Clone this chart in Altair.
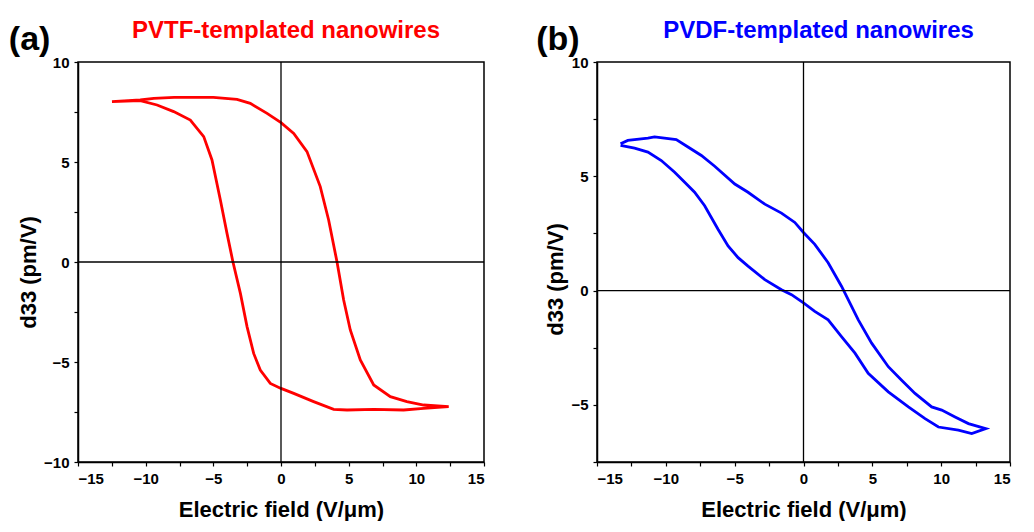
import altair as alt
import pandas as pd

# Panel (a): PVTF-templated nanowires (closed loop, traced in order)
a_x = [-12.49, -10.4, -9.4, -7.9, -5.0, -3.25, -2.27, -1.03, 0.0, 0.94, 1.92, 2.9, 3.52, 4.14,
       4.63, 5.12, 5.86, 6.85, 8.08, 9.3, 10.54, 12.39,
       10.54, 9.06, 6.85, 4.88, 3.89, 2.41, 0.94, 0.0, -0.79, -1.53, -2.02, -2.51, -3.0, -3.55,
       -3.99, -4.48, -5.1, -5.71, -6.7, -7.93, -9.16, -10.4, -12.49]
a_y = [8.02, 8.1, 8.18, 8.23, 8.23, 8.13, 7.93, 7.43, 6.97, 6.43, 5.52, 3.77, 2.1, 0.0,
       -1.9, -3.4, -4.9, -6.15, -6.73, -6.98, -7.15, -7.23,
       -7.32, -7.4, -7.37, -7.4, -7.37, -6.98, -6.57, -6.32, -6.07, -5.4, -4.57, -3.23, -1.57, 0.0,
       1.43, 3.1, 5.1, 6.27, 7.1, 7.52, 7.85, 8.07, 8.02]

# Panel (b): PVDF-templated nanowires
b_x = [-13.29, -12.76, -11.3, -10.82, -9.24, -8.39, -7.42, -6.45, -4.99, -4.03, -2.81, -1.6,
       -0.63, 0.0, 0.82, 1.79, 2.76, 3.13, 3.98, 4.95, 6.16, 7.13, 8.1, 9.31, 10.04, 11.01,
       11.98, 13.24,
       12.22, 11.25, 9.8, 8.83, 7.62, 6.16, 4.7, 3.74, 2.76, 1.79, 0.82, 0.0, -0.87, -1.6,
       -2.81, -4.03, -4.75, -5.48, -6.21, -7.18, -7.91, -8.63, -9.36, -10.33, -11.3, -12.27,
       -13.29]
b_y = [6.42, 6.57, 6.67, 6.72, 6.61, 6.28, 5.91, 5.44, 4.66, 4.30, 3.78, 3.39,
       2.98, 2.54, 2.02, 1.22, 0.19, -0.25, -1.28, -2.3, -3.33, -3.92, -4.5, -5.09, -5.23, -5.53,
       -5.82, -6.04,
       -6.26, -6.11, -5.97, -5.6, -5.09, -4.43, -3.62, -2.74, -2.01, -1.28, -0.91, -0.54, -0.18, 0.04,
       0.48, 1.07, 1.44, 1.95, 2.68, 3.71, 4.30, 4.74, 5.18, 5.69, 6.06, 6.23,
       6.35]

x_ticks = [-15, -12.5, -10, -7.5, -5, -2.5, 0, 2.5, 5, 7.5, 10, 12.5, 15]
x_domain = [-15, 15]
a_y_ticks = [-10, -7.5, -5, -2.5, 0, 2.5, 5, 7.5, 10]
a_y_domain = [-10, 10]
b_y_ticks = [-7.5, -5, -2.5, 0, 2.5, 5, 7.5, 10]
b_y_domain = [-7.5, 10]

FONT = "Liberation Sans"
major_test = "abs(datum.value % 5) < 0.001"


def make_axis(title, values, pad, title_y=None):
    kw = {}
    if title_y is not None:
        kw["titleY"] = title_y
    return alt.Axis(
        title=title,
        values=values,
        labelExpr=f"{major_test} ? datum.label : ''",
        tickSize=4,
        grid=False,
        labelFont=FONT,
        labelColor="black",
        labelFontSize=15,
        labelFontWeight="bold",
        titleFont=FONT,
        titleColor="black",
        titleFontSize=22,
        titleFontWeight="bold",
        titlePadding=pad,
        labelPadding=5,
        domainColor="black",
        tickColor="black",
        domainWidth=1.5,
        tickWidth=1.2,
        **kw,
    )


def panel(xs, ys, color, ydom, yticks, title, letter, title_dx, width, ytitle_y):
    # loop curve plus the two zero reference lines, all in one line mark (no layering)
    rows = [{"x": x, "y": y, "i": k, "s": "loop"} for k, (x, y) in enumerate(zip(xs, ys))]
    rows += [{"x": x_domain[0], "y": 0, "i": 0, "s": "h0"}, {"x": x_domain[1], "y": 0, "i": 1, "s": "h0"}]
    rows += [{"x": 0, "y": ydom[0], "i": 0, "s": "v0"}, {"x": 0, "y": ydom[1], "i": 1, "s": "v0"}]
    df = pd.DataFrame(rows)
    segs = ["h0", "v0", "loop"]
    inner = alt.Chart(df).mark_line().encode(
        x=alt.X("x:Q", scale=alt.Scale(domain=x_domain, nice=False, zero=False),
                axis=make_axis("Electric field (V/μm)", x_ticks, 13)),
        y=alt.Y("y:Q", scale=alt.Scale(domain=ydom, nice=False, zero=False),
                axis=make_axis("d33 (pm/V)", yticks, 3, ytitle_y)),
        color=alt.Color("s:N", scale=alt.Scale(domain=segs, range=["black", "black", color]),
                        legend=None),
        strokeWidth=alt.StrokeWidth("s:N", scale=alt.Scale(type="ordinal", domain=segs,
                                                           range=[1.3, 1.3, 2.8]), legend=None),
        order="i:Q",
    ).properties(
        width=width,
        height=400,
        title=alt.TitleParams(
            text=title, color=color, font=FONT, fontSize=24, fontWeight="bold",
            anchor="middle", offset=12, dx=title_dx,
        ),
    )
    return alt.vconcat(inner).properties(
        title=alt.TitleParams(
            text=letter, color="black", font=FONT, fontSize=34, fontWeight="bold",
            anchor="start", offset=0, dy=39, dx=-8,
        )
    )


pa = panel(a_x, a_y, "#ff0000", a_y_domain, a_y_ticks, "PVTF-templated nanowires", "(a)",
           5, 406, 210)
pb = panel(b_x, b_y, "#0000ff", b_y_domain, b_y_ticks, "PVDF-templated nanowires", "(b)",
           15, 413, 217)

chart = alt.hconcat(pa, pb, spacing=48).resolve_scale(
    color="independent", strokeWidth="independent"
).properties(
    padding={"left": 0, "top": 10, "right": 0, "bottom": 0}
).configure_view(stroke="black", strokeWidth=1.5)

chart.save("out.html", embed_options={"renderer": "svg", "actions": False})
